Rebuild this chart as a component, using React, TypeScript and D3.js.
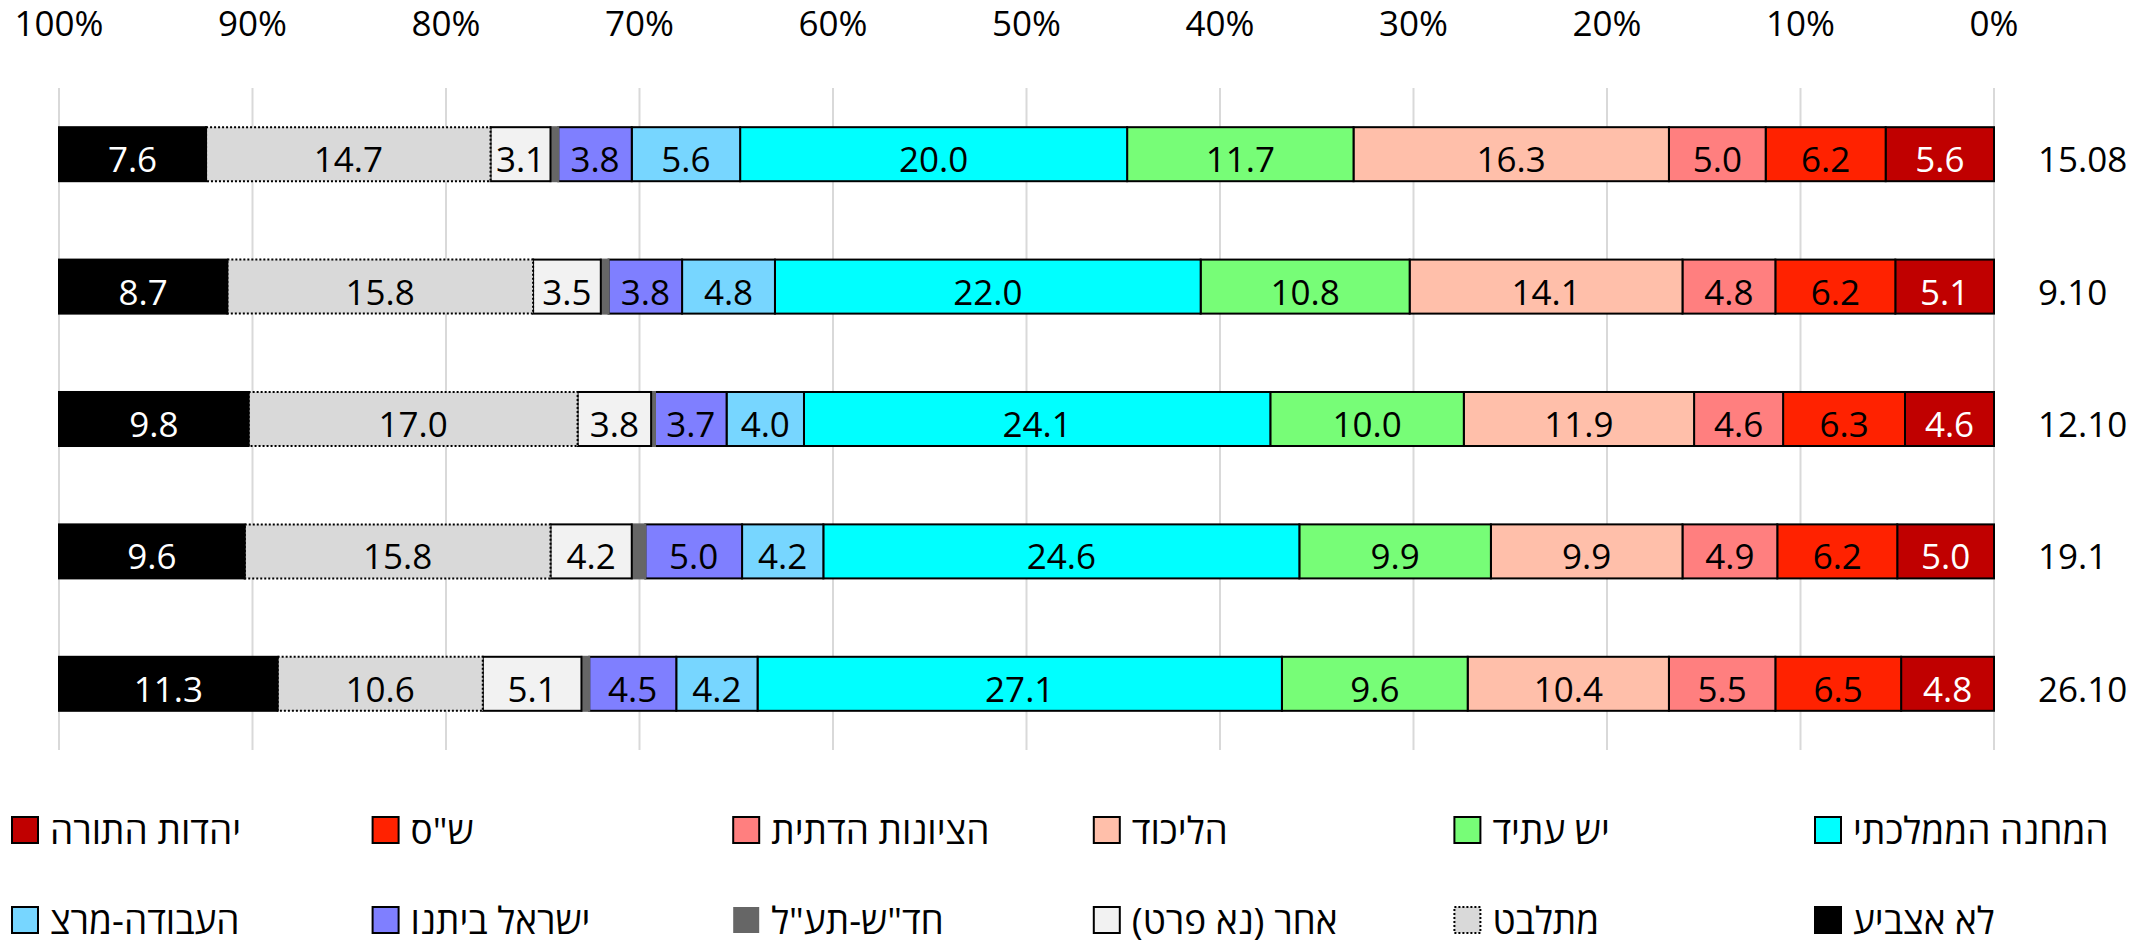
import React from "react";
import * as d3 from "d3";

// survey dates (rows, top to bottom)
const dates = ["15.08", "9.10", "12.10", "19.1", "26.10"];

// parties, stacked from 0% (right) towards 100% (left)
const parties = [
  "יהדות התורה",
  "ש\"ס",
  "הציונות הדתית",
  "הליכוד",
  "יש עתיד",
  "המחנה הממלכתי",
  "העבודה-מרצ",
  "ישראל ביתנו",
  "חד\"ש-תע\"ל",
  "אחר (נא פרט)",
  "מתלבט",
  "לא אצביע",
];

const partyColors = [
  "#c00000",
  "#ff2200",
  "#ff7f7f",
  "#ffbfaa",
  "#77fd77",
  "#00ffff",
  "#77d6ff",
  "#7f7fff",
  "#666666",
  "#f2f2f2",
  "#d9d9d9",
  "#000000",
];

// values per party, one per date
const utj = [5.6, 5.1, 4.6, 5.0, 4.8];
const shas = [6.2, 6.2, 6.3, 6.2, 6.5];
const religiousZionism = [5.0, 4.8, 4.6, 4.9, 5.5];
const likud = [16.3, 14.1, 11.9, 9.9, 10.4];
const yeshAtid = [11.7, 10.8, 10.0, 9.9, 9.6];
const nationalUnity = [20.0, 22.0, 24.1, 24.6, 27.1];
const laborMeretz = [5.6, 4.8, 4.0, 4.2, 4.2];
const yisraelBeytenu = [3.8, 3.8, 3.7, 5.0, 4.5];
const hadash = [0.4, 0.4, 0.2, 0.7, 0.4];
const other = [3.1, 3.5, 3.8, 4.2, 5.1];
const undecided = [14.7, 15.8, 17.0, 15.8, 10.6];
const notVoting = [7.6, 8.7, 9.8, 9.6, 11.3];

const series = [
  utj, shas, religiousZionism, likud, yeshAtid, nationalUnity,
  laborMeretz, yisraelBeytenu, hadash, other, undecided, notVoting,
];

const ticks = [0, 10, 20, 30, 40, 50, 60, 70, 80, 90, 100];

const W = 2156;
const H = 944;
const FONT = "'Open Sans', 'Noto Sans', 'DejaVu Sans', sans-serif";

const HADASH = 8;
const UNDECIDED = 10;

export default function App() {
  // build a table for d3.stack
  const table = dates.map((d, i) => {
    const row: any = { date: d };
    parties.forEach((p, j) => (row[p] = series[j][i]));
    return row;
  });
  const stacked = d3.stack().keys(parties)(table);

  const x = d3.scaleLinear().domain([0, 100]).range([1994, 59]);
  const y = d3
    .scaleBand()
    .domain(dates)
    .range([88, 750])
    .paddingInner(0.592)
    .paddingOuter(0.296);
  const bh = y.bandwidth();

  const legendX = d3.scaleLinear().domain([0, 5]).range([12, 1815]);
  const legendY = [817, 907];

  const strokeFor = (j: number) => (j === HADASH ? "#666666" : "#000");
  const dashFor = (j: number) => (j === UNDECIDED ? "2 2" : undefined);

  return (
    <svg
      width={W}
      height={H}
      style={{ position: "absolute", left: 0, top: 0, display: "block", background: "#fff" }}
      fontFamily={FONT}
    >
      {/* gridlines and top axis */}
      {ticks.map((t) => (
        <g key={t}>
          <line x1={x(t)} x2={x(t)} y1={88} y2={750} stroke="#d9d9d9" strokeWidth={2} />
          <text x={x(t)} y={36} textAnchor="middle" fontSize={35} fill="#000">
            {t}%
          </text>
        </g>
      ))}

      {/* stacked bars */}
      {stacked.map((layer, j) => (
        <g key={parties[j]}>
          {layer.map((seg, i) => {
            const d = dates[i];
            const x0 = x(seg[1]);
            const x1 = x(seg[0]);
            const y0 = y(d)!;
            return (
              <rect
                key={d}
                x={x0}
                y={y0}
                width={x1 - x0}
                height={bh}
                fill={partyColors[j]}
                stroke={strokeFor(j)}
                strokeWidth={2}
                strokeDasharray={dashFor(j)}
              />
            );
          })}
        </g>
      ))}

      {/* value labels */}
      {stacked.map((layer, j) => (
        <g key={"l" + parties[j]}>
          {layer.map((seg, i) => {
            const v = seg[1] - seg[0];
            if (v < 1) return null;
            const d = dates[i];
            const dark = j === 0 || j === 11;
            return (
              <text
                key={d}
                x={(x(seg[0]) + x(seg[1])) / 2}
                y={y(d)! + bh / 2 + 18}
                textAnchor="middle"
                fontSize={35}
                fill={dark ? "#fff" : "#000"}
              >
                {series[j][i].toFixed(1)}
              </text>
            );
          })}
        </g>
      ))}

      {/* date labels */}
      {dates.map((d) => (
        <text key={d} x={2038} y={y(d)! + bh / 2 + 18} fontSize={35} fill="#000">
          {d}
        </text>
      ))}

      {/* legend */}
      {parties.map((p, j) => {
        const col = j % 6;
        const row = Math.floor(j / 6);
        const lx = legendX(col);
        const ly = legendY[row];
        return (
          <g key={"lg" + p}>
            <rect
              x={lx}
              y={ly}
              width={26}
              height={26}
              fill={partyColors[j]}
              stroke={j === HADASH ? "none" : "#000"}
              strokeWidth={2}
              strokeDasharray={dashFor(j)}
            />
            <text
              x={lx + 38}
              y={ly + 27}
              fontSize={37}
              fill="#000"
              direction="rtl"
              textAnchor="end"
            >
              {p}
            </text>
          </g>
        );
      })}
    </svg>
  );
}
